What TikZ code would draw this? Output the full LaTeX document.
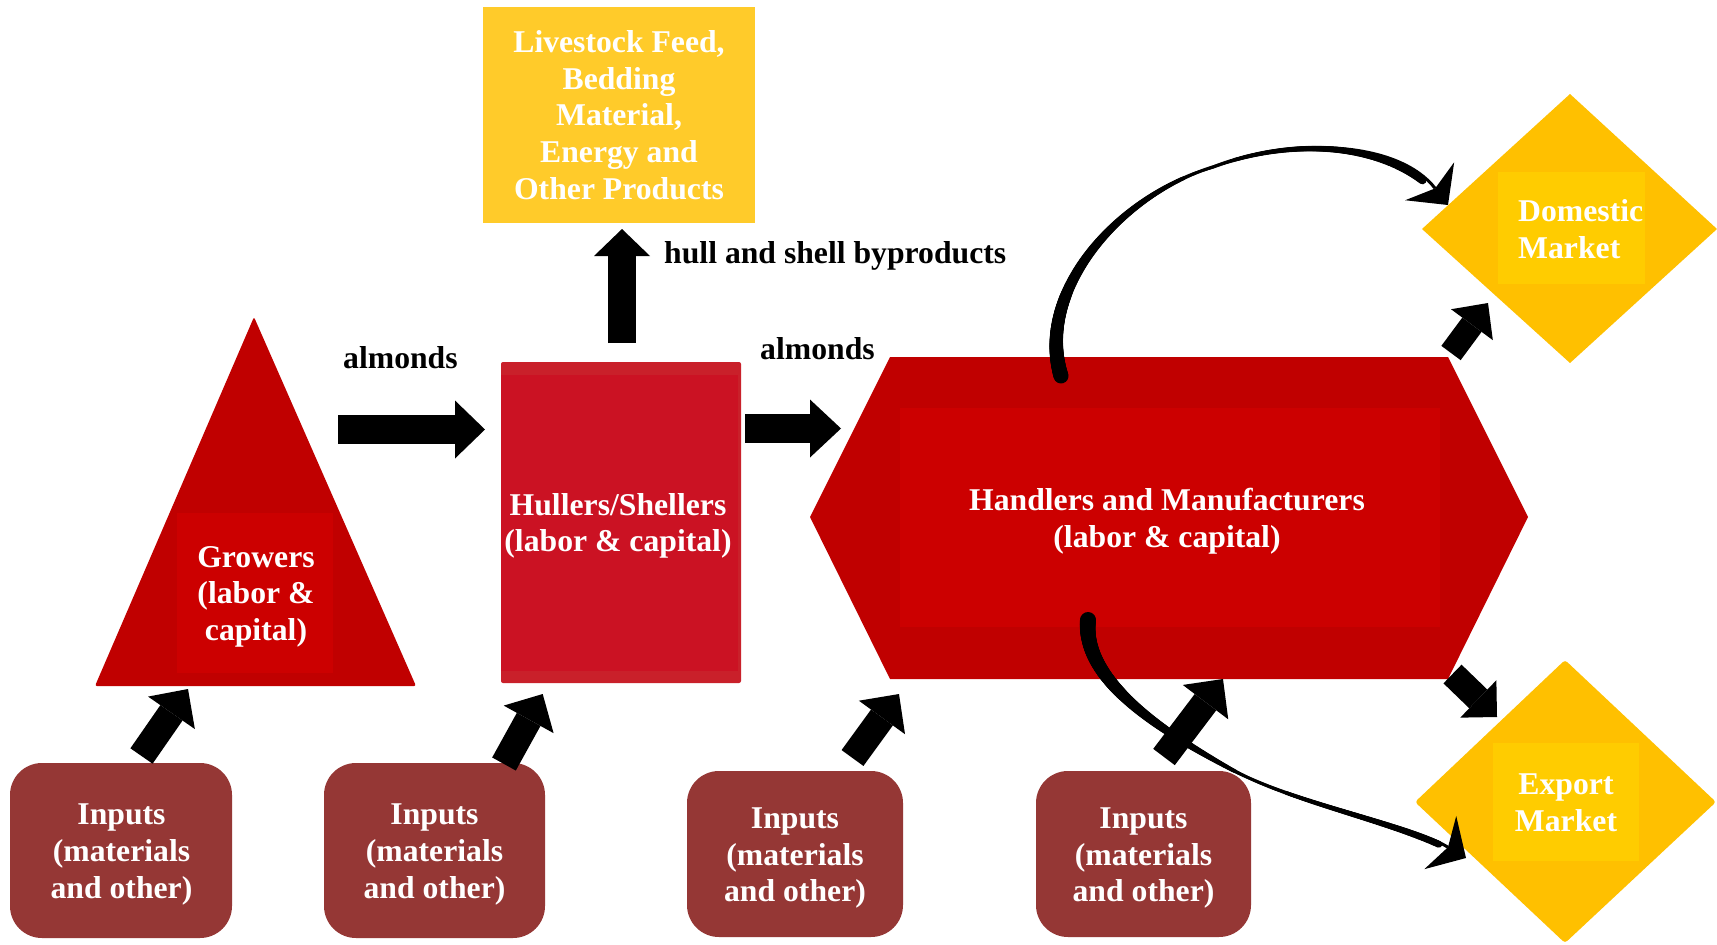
\documentclass[tikz,border=0pt]{standalone}
\usepackage{fontspec}
\setmainfont{Liberation Serif}
\usetikzlibrary{arrows.meta,decorations.markings}
\definecolor{growred}{HTML}{C00000}
\definecolor{innerred}{HTML}{CC0000}
\definecolor{hullband}{HTML}{C9202A}
\definecolor{hullfill}{HTML}{CB1223}
\definecolor{gold}{HTML}{FFC000}
\definecolor{goldinner}{HTML}{FFCC00}
\definecolor{feedgold}{HTML}{FFCB2A}
\definecolor{inputbrown}{HTML}{953735}
\begin{document}
\begin{tikzpicture}[x=1pt,y=-1pt,
  wlbl/.style={font=\fontsize{31.7}{36.6}\selectfont\bfseries, inner sep=0pt, text=white, align=center},
  blbl/.style={font=\fontsize{31.7}{36.6}\selectfont\bfseries, inner sep=0pt, text=black},
  blockarrow/.style n args={3}{draw=black, line width=#1, line cap=butt,
     -{Triangle[length=#3, width=#2, line width=0pt]}},
  curvearrow/.style={draw=black, line width=#1, line cap=butt,
     -{Stealth[length=30pt, width=62pt, inset=9pt, line width=0pt]}},
  taper/.style n args={3}{postaction={decorate, decoration={markings,
     mark=between positions 0 and 0.93 step 1pt with {
       \pgfmathsetmacro{\tsfrac}{\pgfkeysvalueof{/pgf/decoration/mark info/distance from start}/\pgfdecoratedpathlength}
       \pgfmathsetmacro{\tsrad}{\tsfrac<0.5 ? #1-(#1-#2)*\tsfrac*2 : #2+(#3-#2)*(\tsfrac-0.5)*2}
       \fill[black] (0,0) circle (\tsrad pt);
     }}}},
  inbox/.style={fill=inputbrown, rounded corners=32pt}
]
\useasboundingbox (0,0) rectangle (1717,945);
\fill[white] (0,0) rectangle (1717,945);

% Livestock box
\fill[feedgold] (483,7) rectangle (755,223);
\node[wlbl] (feed) at (619,115) {Livestock Feed,\\Bedding\\Material,\\Energy and\\Other Products};

% Growers triangle
\fill[growred, rounded corners=2pt] (254,317) -- (416,686) -- (95,686) -- cycle;
\fill[innerred] (177,513) rectangle (333,673);
\node[wlbl] (growers) at (256,596.5) {Growers\\(labor \&\\capital)};

% Hullers box
\fill[hullband, rounded corners=2pt] (501,362) rectangle (741,683);
\fill[hullfill] (501,375) rectangle (738,671);
\node[wlbl] (hullers) at (618,526) {Hullers/Shellers\\(labor \& capital)};

% Handlers hexagon
\fill[growred] (890,357) -- (1448,357) -- (1528,517) -- (1448,679) -- (890,679) -- (810,517) -- cycle;
\fill[innerred] (900,408) rectangle (1440,627);
\node[wlbl] (handlers) at (1167,521) {Handlers and Manufacturers\\(labor \& capital)};

% Domestic diamond
\fill[gold] (1570,94) -- (1717,229) -- (1570,363) -- (1422,229) -- cycle;
\fill[goldinner] (1498,172) rectangle (1645,284);
\node[wlbl, align=left, anchor=west] (domestic) at (1518,229) {Domestic\\Market};

% Export diamond
\fill[gold, rounded corners=3pt] (1565,660) -- (1716,802) -- (1565,943) -- (1415,802) -- cycle;
\fill[goldinner] (1493,743) rectangle (1639,861);
\node[wlbl] (export) at (1566,802.5) {Export\\Market};

% Input boxes
\fill[inbox] (10,763) rectangle (232,938);
\node[wlbl] (in1) at (121.5,854.5) {Inputs\\(materials\\and other)};
\fill[inbox] (324,763) rectangle (545,938);
\node[wlbl] (in2) at (434.5,854.5) {Inputs\\(materials\\and other)};
\fill[inbox] (687,771) rectangle (903,937);
\node[wlbl] (in3) at (795,858) {Inputs\\(materials\\and other)};
\fill[inbox] (1036,771) rectangle (1251,937);
\node[wlbl] (in4) at (1143.5,858) {Inputs\\(materials\\and other)};

% Labels
\node[blbl, anchor=base west] (alm1) at (343,368) {almonds};
\node[blbl, anchor=base west] (alm2) at (760,359) {almonds};
\node[blbl, anchor=base west] (hull) at (664,263) {hull and shell byproducts};

% arrow end points
\coordinate (a1s) at (338,429.5);  \coordinate (a1e) at (485,429.5);
\coordinate (a2s) at (745,428.5);  \coordinate (a2e) at (841,428.5);
\coordinate (a3s) at (622,343);    \coordinate (a3e) at (622,229);
\coordinate (i1s) at (141.5,756);  \coordinate (i1e) at (188,689);
\coordinate (i2s) at (504,764);    \coordinate (i2e) at (542.7,694);
\coordinate (i3s) at (852.5,758);  \coordinate (i3e) at (899,694);
\coordinate (i4s) at (1164,757);   \coordinate (i4e) at (1223,679);
\coordinate (ds) at (1451,353);    \coordinate (de) at (1488,303);
\coordinate (es) at (1452.5,674);  \coordinate (ee) at (1497,717);

\draw[blockarrow={29pt}{58pt}{30pt}] (a1s) -- (a1e);
\draw[blockarrow={29pt}{58pt}{31pt}] (a2s) -- (a2e);
\draw[blockarrow={28pt}{56pt}{27pt}] (a3s) -- (a3e);
\draw[blockarrow={27pt}{57pt}{29pt}] (i1s) -- (i1e);
\draw[blockarrow={27pt}{57pt}{29pt}] (i2s) -- (i2e);
\draw[blockarrow={27pt}{57pt}{29pt}] (i3s) -- (i3e);
\draw[blockarrow={27pt}{57pt}{29pt}] (i4s) -- (i4e);
\draw[blockarrow={24pt}{52pt}{27pt}] (ds) -- (de);
\draw[blockarrow={26pt}{52pt}{26pt}] (es) -- (ee);

% curved arrows
\coordinate (cts) at (1061,376); \coordinate (ctm) at (1213,167); \coordinate (cte) at (1448,205);
\draw[curvearrow=3pt, taper={7.5}{1.6}{4.5}] (cts) .. controls (1035,290) and (1120,195) .. (ctm)
   .. controls (1299,135) and (1400,143) .. (cte);
\coordinate (cbs) at (1088,620); \coordinate (cbm) at (1227,767); \coordinate (cbe) at (1466,858);
\draw[curvearrow=3pt, taper={8}{1.6}{3.8}] (cbs) .. controls (1082,680) and (1160,730) .. (cbm)
   .. controls (1297,806) and (1406,822) .. (cbe);
\end{tikzpicture}
\end{document}
